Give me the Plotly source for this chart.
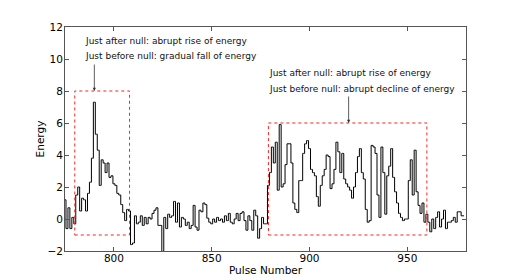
import plotly.graph_objects as go

# ---- data ----
pulse_start = 775
energy = [
    1.2, -0.6, 0.7, -0.6, 0.1, -0.3, 1.5, 2.0, 0.5, 1.3,        # 775-784
    1.2, 0.5, 1.6, 2.3, 3.8, 7.3, 5.3, 4.3, 2.1, 3.7,           # 785-794
    3.5, 2.9, 3.5, 2.6, 2.7, 2.2, 2.1, 1.6, 1.5, 0.9,           # 795-804
    0.4, -0.1, 0.6, 0.5, -1.6, -1.5, 0.2, -0.3, -0.2, 0.2,      # 805-814
    -0.4, 0.1, -0.3, 0.1, 0.0, 0.35, 0.55, 0.7, -0.4, -0.4,     # 815-824
    -3.0, 0.1, -0.6, 0.3, 0.1, 0.2, 1.1, -0.2, 1.0, -0.5,       # 825-834
    0.1, 0.0, -0.4, -0.2, -0.6, -0.4, 0.85, -0.5, -0.7, 0.55,   # 835-844
    0.45, 1.0, 0.9, 0.05, -0.2, -0.3, 0.0, -0.2, 0.1, -0.1,     # 845-854
    0.0, -0.2, 0.2, -0.1, 0.35, -0.2, -0.3, 0.0, 0.35, -0.1,    # 855-864
    0.35, 0.45, -0.1, -0.7, 0.2, -0.1, -0.7, 0.55, 0.2, -1.2,   # 865-874
    -0.6, 0.1, -0.3, -0.3, 2.1, 2.9, 4.5, 3.5, 4.8, 1.8,        # 875-884
    5.9, 2.0, 2.2, 3.4, 4.7, 4.7, 3.5, 1.0, 0.6, 0.4,           # 885-894
    2.4, 2.4, 4.1, 4.7, 4.9, 4.4, 3.1, 2.9, 2.7, 1.4,           # 895-904
    0.8, 2.1, 2.7, 3.1, 4.0, 3.9, 1.9, 2.2, 3.1, 4.8,           # 905-914
    4.2, 2.9, 4.1, 2.5, 2.2, 2.0, 1.8, 1.3, 2.0, 2.9,           # 915-924
    3.9, 4.4, 2.9, 2.5, 0.6, -0.2, -0.1, 4.6, 4.5, 4.1,         # 925-934
    1.5, 0.1, 4.5, 2.9, 0.3, 2.7, 3.3, 4.4, 2.6, 1.7,           # 935-944
    1.0, 0.35, 0.1, -0.1, 0.0, 0.0, 2.4, 3.7, 1.5, 4.3,         # 945-954
    1.7, 0.85, 0.35, 1.0, -0.2, 0.3, -0.2, -0.8, 0.0, -0.6,     # 955-964
    0.1, 0.45, -0.5, 0.0, 0.55, -0.6, -0.2, -0.2, -0.1, 0.1,    # 965-974
    -0.2, 0.45, 0.45, 0.2, 0.2,                                 # 975-979
]
pulses = list(range(pulse_start, pulse_start + len(energy)))

x_ticks = [800, 850, 900, 950]
y_ticks = [-2, 0, 2, 4, 6, 8, 10, 12]

# highlighted regions: (x0, x1, y0, y1)
box_left = (780, 808, -1, 8)
box_right = (879, 960, -1, 6)

note_left = ["Just after null: abrupt rise of energy",
             "Just before null: gradual fall of energy"]
note_right = ["Just after null: abrupt rise of energy",
              "Just before null: abrupt decline of energy"]

FONT = "DejaVu Sans"

fig = go.Figure()
fig.add_trace(go.Scatter(
    x=pulses, y=energy, mode="lines",
    line=dict(color="black", width=1, shape="hvh"),
    showlegend=False, hoverinfo="skip",
))

for (x0, x1, y0, y1) in (box_left, box_right):
    fig.add_shape(type="rect", xref="x", yref="y", x0=x0, x1=x1, y0=y0, y1=y1,
                  line=dict(color="#ff2020", width=1, dash="dot"))

annotations = []
# texts
for xt, ys, lines in ((784.3, (11.14, 10.2), note_left),
                      (878.3, (9.15, 8.13), note_right)):
    for yv, t in zip(ys, lines):
        annotations.append(dict(x=xt, y=yv, xref="x", yref="y", text=t,
                                showarrow=False, xanchor="left", yanchor="middle",
                                font=dict(family=FONT, size=9, color="#111")))
# arrows
for xa, ytail, yhead in ((790, 9.75, 8.0), (920, 7.75, 6.0)):
    annotations.append(dict(x=xa, y=yhead, ax=xa, ay=ytail, xref="x", yref="y",
                            axref="x", ayref="y", text="", showarrow=True,
                            arrowhead=2, arrowsize=0.8, arrowwidth=0.8,
                            arrowcolor="#333"))

# page body adds an 8px offset, so the figure is 8px smaller than the window
fig.update_layout(
    width=510, height=272,
    margin=dict(l=57, r=52, t=19, b=29),
    paper_bgcolor="white", plot_bgcolor="white",
    font=dict(family=FONT, size=10.5, color="black"),
    annotations=annotations,
)
axis_common = dict(showline=True, linecolor="#555", linewidth=1, mirror="ticks",
                   ticks="inside", ticklen=4, tickcolor="#555", showgrid=False,
                   zeroline=False, automargin=False,
                   tickfont=dict(family=FONT, size=10.5, color="black"))
fig.update_xaxes(range=[775, 980], tickvals=x_ticks,
                 title=dict(text="Pulse Number", font=dict(family=FONT, size=10.5), standoff=0),
                 ticklabelstandoff=-3,
                 **axis_common)
fig.update_yaxes(range=[-2, 12], tickvals=y_ticks,
                 title=dict(text="Energy", font=dict(family=FONT, size=10.5), standoff=0),
                 ticklabelstandoff=-1,
                 **axis_common)

fig.write_html("out.html")
